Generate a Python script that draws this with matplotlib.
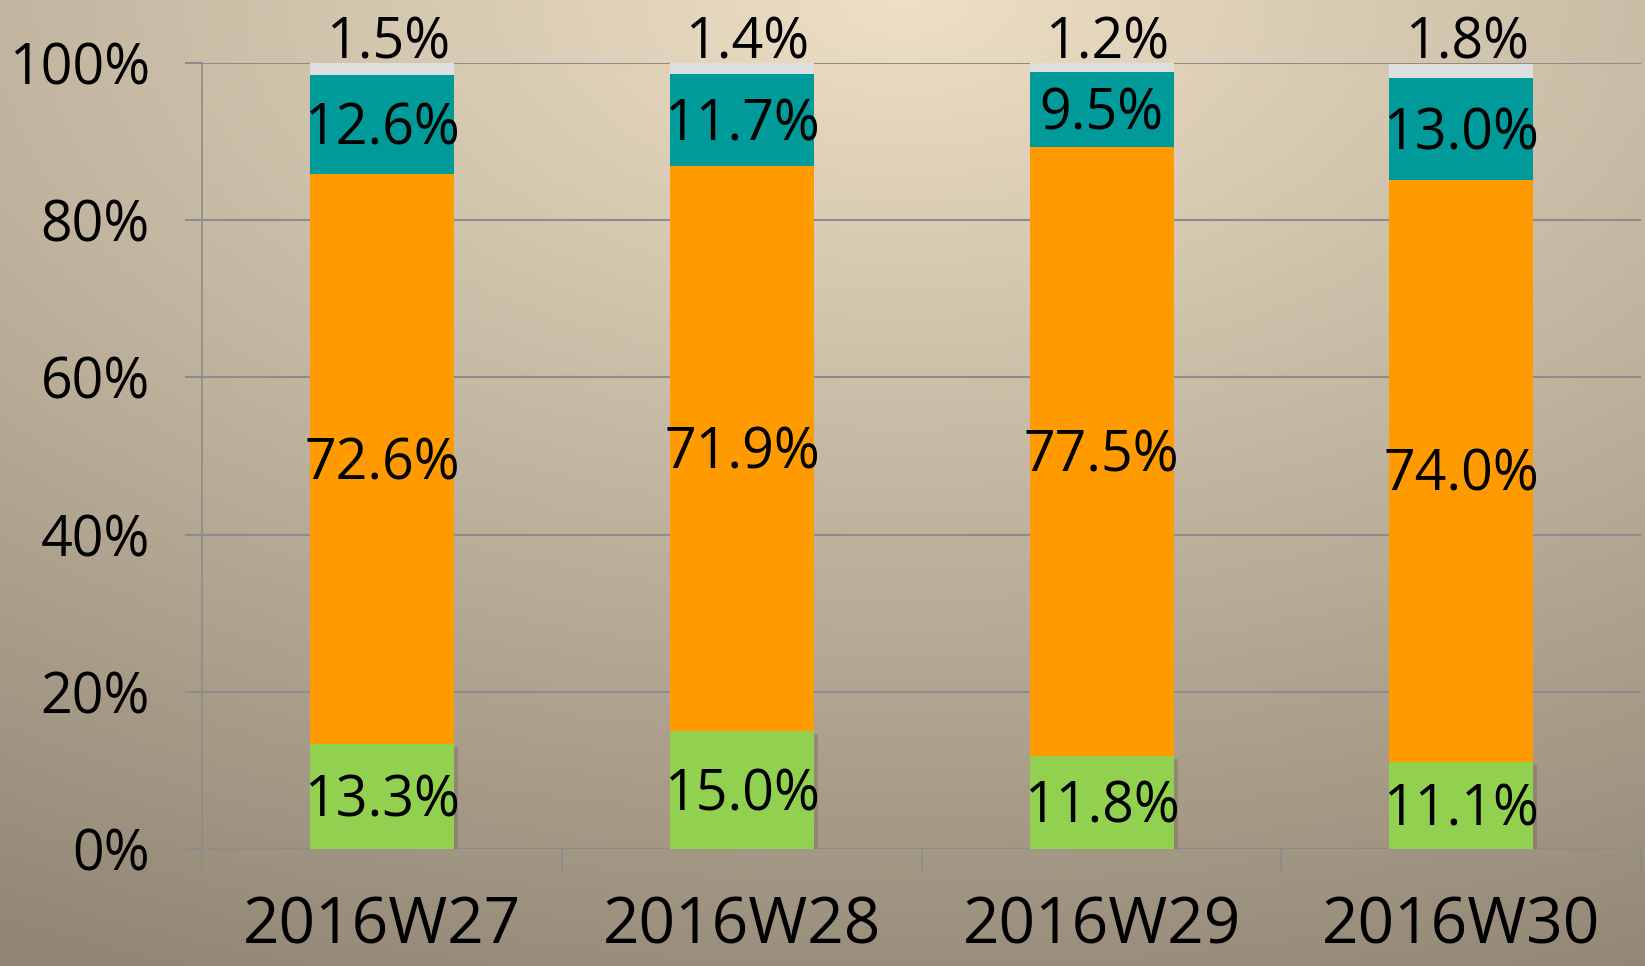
import numpy as np
import matplotlib
matplotlib.use("Agg")
import matplotlib.pyplot as plt
import matplotlib.patheffects as pe
from matplotlib.ticker import FixedLocator, NullFormatter

plt.rcParams['font.family'] = ['Open Sans', 'DejaVu Sans']

# ===================== DATOS =====================
semanas = ['2016W27', '2016W28', '2016W29', '2016W30']
verde = [13.3, 15.0, 11.8, 11.1]
naranja = [72.6, 71.9, 77.5, 74.0]
turquesa = [12.6, 11.7, 9.5, 13.0]
gris = [1.5, 1.4, 1.2, 1.8]
yticks = [0, 20, 40, 60, 80, 100]

series = [verde, naranja, turquesa, gris]
colores = ['#92d050', '#ff9a00', '#009a9a', '#dedede']

# ===================== FIGURA =====================
fig = plt.figure(figsize=(16.45, 9.66), dpi=100)

# fondo degradado (claro arriba al centro, oscuro abajo)
bg = fig.add_axes([0, 0, 1, 1], zorder=-10)
h, w = 200, 340
yy, xx = np.mgrid[0:h, 0:w]
fx = xx / (w - 1)
fy = yy / (h - 1)
d = np.sqrt((fx - 0.55) ** 2 + (fy * 1.05) ** 2)
t = np.clip(d / 1.15, 0, 1)
claro = np.array([238, 224, 198]) / 255
oscuro = np.array([146, 135, 118]) / 255
img = claro[None, None, :] * (1 - t[..., None]) + oscuro[None, None, :] * t[..., None]
bg.imshow(img, aspect='auto', extent=[0, 1, 0, 1], origin='upper')
bg.axis('off')

ax = fig.add_axes([0.1231, 0.1211, 0.8745, 0.8137])
ax.patch.set_alpha(0)

x = np.arange(len(semanas))
bottom = np.zeros(len(semanas))
sombra = [pe.SimplePatchShadow(offset=(3, -2), shadow_rgbFace='#6a604f', alpha=0.35), pe.Normal()]
for vals, col in zip(series, colores):
    bars = ax.bar(x, vals, bottom=bottom, width=0.4, color=col, zorder=3)
    if col == colores[0]:
        for b in bars:
            b.set_path_effects(sombra)
    bottom = bottom + np.array(vals)

# etiquetas de datos
bottom = np.zeros(len(semanas))
for k, vals in enumerate(series):
    for i, v in enumerate(vals):
        if k == 3:
            ax.annotate(f"{v:.1f}%", (x[i], 100), xytext=(4, -7), textcoords='offset points',
                        ha='center', va='bottom', fontsize=40, color='black', zorder=5)
        else:
            ax.annotate(f"{v:.1f}%", (x[i], bottom[i] + v / 2), xytext=(0, -4),
                        textcoords='offset points', ha='center', va='center',
                        fontsize=40, color='black', zorder=5)
    bottom = bottom + np.array(vals)

ax.set_xlim(-0.5, len(semanas) - 0.5)
ax.set_ylim(0, 100)
ax.set_yticks(yticks)
ax.set_yticklabels([f"{v}%" for v in yticks])
ax.yaxis.grid(True, color='#8c8c8c', linewidth=1.5, zorder=0)
ax.set_axisbelow(True)

# marcas del eje x en los limites de categoria, etiquetas al centro
ax.xaxis.set_major_locator(FixedLocator(np.arange(-0.5, len(semanas), 1.0)))
ax.xaxis.set_major_formatter(NullFormatter())
ax.xaxis.set_minor_locator(FixedLocator(x))
ax.set_xticklabels(semanas, minor=True)
ax.tick_params(axis='x', which='major', length=16, width=1.2, color='#8c8c8c', direction='out')
ax.tick_params(axis='x', which='minor', length=0, pad=33, labelsize=46)
ax.tick_params(axis='y', length=12, width=1.5, color='#8c8c8c', pad=26, labelsize=40)

for s in ['top', 'right', 'bottom']:
    ax.spines[s].set_visible(False)
ax.spines['left'].set_color('#8c8c8c')
ax.spines['left'].set_linewidth(1.2)

fig.savefig('out.png', dpi=100)
